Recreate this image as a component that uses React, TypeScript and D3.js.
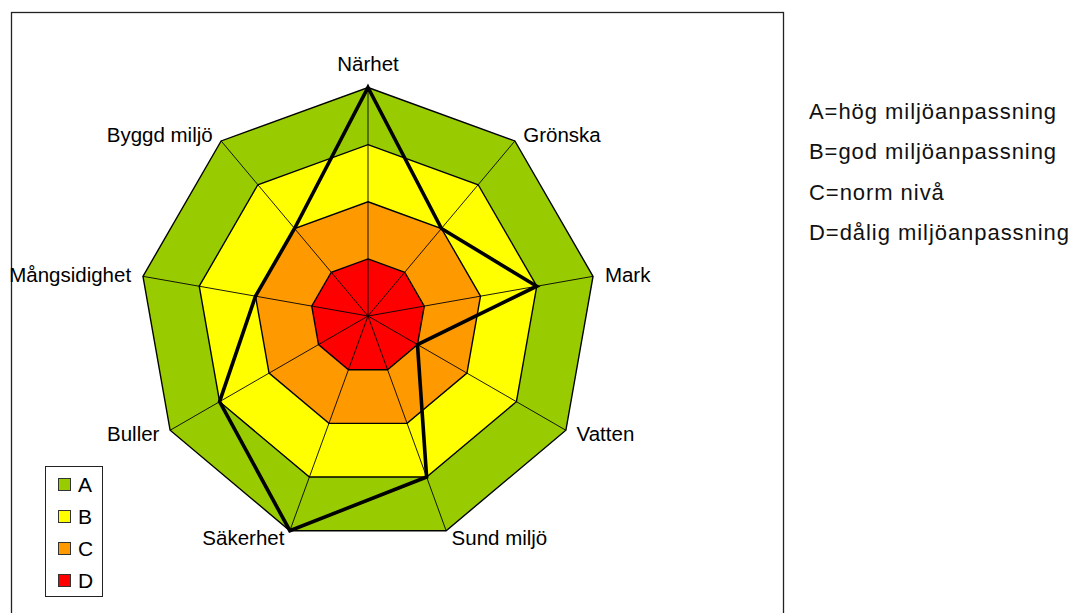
import React from "react";
import * as d3 from "d3";

const axes = ["Närhet", "Grönska", "Mark", "Vatten", "Sund miljö", "Säkerhet", "Buller", "Mångsidighet", "Byggd miljö"];
const profileValues = [4, 2, 3, 1, 3, 4, 3, 2, 2];
const bandNames = ["A", "B", "C", "D"];
const bandValues = [4, 3, 2, 1];
const bandColors = ["#99CC00", "#FFFF00", "#FF9900", "#FF0000"];
const noteLines = ["A=hög miljöanpassning", "B=god miljöanpassning", "C=norm nivå", "D=dålig miljöanpassning"];

const W = 1075;
const H = 613;
const cx = 368;
const cy = 316;
const R = 228.5;

export default function App() {
  const r = d3.scaleLinear().domain([0, 4]).range([0, R]);
  const angle = d3
    .scaleLinear()
    .domain([0, axes.length])
    .range([0, 2 * Math.PI]);

  const pt = (i: number, v: number): [number, number] => {
    const a = angle(i);
    return [cx + r(v) * Math.sin(a), cy - r(v) * Math.cos(a)];
  };

  const line = d3.line<[number, number]>().curve(d3.curveLinearClosed);

  const font = "'Liberation Sans', Arial, sans-serif";

  return (
    <svg
      width={W}
      height={H}
      style={{ position: "absolute", left: 0, top: 0, display: "block", background: "#fff" }}
    >
      <rect x={11.5} y={12.5} width={772} height={H + 20} fill="#fff" stroke="#222" strokeWidth={1.3} />

      {bandValues.map((v, bi) => (
        <path
          key={"band" + bi}
          d={line(axes.map((_, i) => pt(i, v))) || ""}
          fill={bandColors[bi]}
          stroke="#000"
          strokeWidth={1.4}
        />
      ))}

      {axes.map((_, i) => {
        const [x, y] = pt(i, 4);
        return <line key={"sp" + i} x1={cx} y1={cy} x2={x} y2={y} stroke="#000" strokeWidth={0.9} />;
      })}

      <path
        d={line(profileValues.map((v, i) => pt(i, v))) || ""}
        fill="none"
        stroke="#000"
        strokeWidth={3.6}
        strokeLinejoin="miter"
      />

      {axes.map((name, i) => {
        const a = angle(i);
        const s = Math.sin(a);
        const c = Math.cos(a);
        const [vx, vy] = pt(i, 4);
        if (Math.abs(s) < 1e-6) {
          return (
            <text key={"lb" + i} x={vx} y={vy - 17} textAnchor="middle" fontFamily={font} fontSize={20.5} fill="#000">
              {name}
            </text>
          );
        }
        const sign = s > 0 ? 1 : -1;
        const x = vx + 10 * s + 2 * sign;
        const y = vy - 8 * c;
        return (
          <text
            key={"lb" + i}
            x={x}
            y={y}
            dy="0.35em"
            textAnchor={s > 0 ? "start" : "end"}
            fontFamily={font}
            fontSize={20.5}
            fill="#000"
          >
            {name}
          </text>
        );
      })}

      {/* legend box */}
      <rect x={45.5} y={466.5} width={57} height={130} fill="#fff" stroke="#222" strokeWidth={1} />
      {bandNames.map((n, i) => (
        <g key={"lg" + i}>
          <rect x={58.5} y={478.5 + i * 32} width={12} height={12} fill={bandColors[i]} stroke="#333" strokeWidth={1} />
          <text x={78} y={484.5 + i * 32} dy="0.36em" fontFamily={font} fontSize={21} fill="#000">
            {n}
          </text>
        </g>
      ))}

      {noteLines.map((t, i) => (
        <text
          key={"nt" + i}
          x={809}
          y={118.5 + i * 40.5}
          fontFamily={font}
          fontSize={22}
          letterSpacing={0.95}
          fill="#111"
        >
          {t}
        </text>
      ))}
    </svg>
  );
}
